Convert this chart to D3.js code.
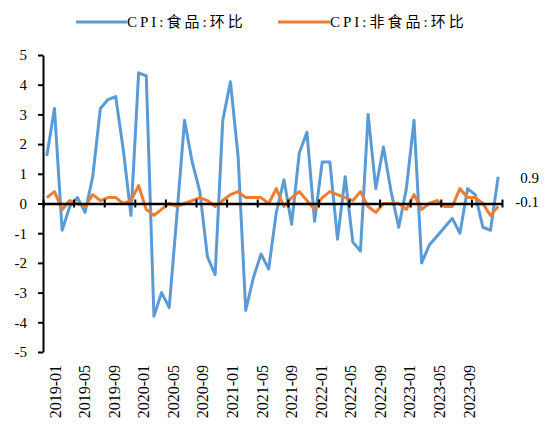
<!DOCTYPE html>
<html>
<head>
<meta charset="utf-8">
<script src="https://cdn.jsdelivr.net/npm/d3@7"></script>
<style>
  html, body { margin: 0; padding: 0; background: #fff; }
  svg { display: block; }
</style>
</head>
<body>
<svg id="chart" width="544" height="425"></svg>
<script>
const months = [];
for (let yr = 2019; yr <= 2023; yr++) {
  for (let m = 1; m <= 12; m++) months.push(yr + "-" + String(m).padStart(2, "0"));
}

const foodMoM = [
  1.6, 3.2, -0.9, -0.1, 0.2, -0.3, 0.9, 3.2, 3.5, 3.6, 1.8, -0.4,
  4.4, 4.3, -3.8, -3.0, -3.5, -0.4, 2.8, 1.4, 0.4, -1.8, -2.4, 2.8,
  4.1, 1.6, -3.6, -2.5, -1.7, -2.2, -0.3, 0.8, -0.7, 1.7, 2.4, -0.6,
  1.4, 1.4, -1.2, 0.9, -1.3, -1.6, 3.0, 0.5, 1.9, 0.4, -0.8, 0.5,
  2.8, -2.0, -1.4, -1.1, -0.8, -0.5, -1.0, 0.5, 0.3, -0.8, -0.9, 0.9
];

const nonFoodMoM = [
  0.2, 0.4, -0.2, 0.1, 0.0, -0.1, 0.3, 0.1, 0.2, 0.2, 0.0, 0.1,
  0.6, -0.2, -0.4, -0.2, 0.0, -0.1, 0.0, 0.1, 0.2, 0.1, -0.1, 0.1,
  0.3, 0.4, 0.2, 0.2, 0.2, 0.0, 0.5, -0.1, 0.2, 0.4, 0.1, -0.2,
  0.2, 0.4, 0.3, 0.2, 0.1, 0.4, -0.1, -0.3, 0.0, 0.0, 0.0, -0.2,
  0.3, -0.2, 0.0, 0.1, -0.1, -0.1, 0.5, 0.2, 0.2, 0.0, -0.4, -0.1
];

const seriesNames = ["CPI:食品:环比", "CPI:非食品:环比"];
const seriesColors = ["#5B9BD5", "#ED7D31"];
const yTicks = [5, 4, 3, 2, 1, 0, -1, -2, -3, -4, -5];
const tickLabels = months.filter((d, i) => i % 4 === 0);

const FONT = '"Liberation Serif", "Noto Sans CJK SC", serif';
const svg = d3.select("#chart").style("font-family", FONT);

// scales
const x = d3.scaleLinear().domain([0, months.length]).range([43, 502]);
const xLab = d3.scaleLinear().domain([0, 56]).range([55, 469]);
const y = d3.scaleLinear().domain([-5, 5]).range([352, 55]);

// y axis
const yAxisG = svg.append("g")
  .attr("transform", `translate(${x(0)},0)`)
  .call(d3.axisLeft(y).tickValues(yTicks).tickSize(5).tickSizeOuter(0).tickPadding(11)
    .tickFormat(d => d));
yAxisG.attr("font-family", null).attr("font-size", null);
yAxisG.select(".domain").attr("stroke", "#000").attr("stroke-width", 2);
yAxisG.selectAll(".tick line").attr("stroke", "#000").attr("stroke-width", 2);
yAxisG.selectAll(".tick text")
  .style("font-family", FONT).style("font-size", "15px").attr("fill", "#000");

// lines
const lineGen = d3.line()
  .x((d, i) => x(i + 0.5))
  .y(d => y(d));

[foodMoM, nonFoodMoM].forEach((vals, k) => {
  svg.append("path")
    .datum(vals)
    .attr("fill", "none")
    .attr("stroke", seriesColors[k])
    .attr("stroke-width", 3)
    .attr("stroke-linejoin", "round")
    .attr("d", lineGen);
});

// x axis at zero
const xAxisG = svg.append("g")
  .attr("transform", `translate(0,${y(0)})`)
  .call(d3.axisBottom(x).tickValues(d3.range(0, months.length + 1, 4)).tickSizeOuter(0).tickFormat(""));
xAxisG.select(".domain").attr("stroke", "#000").attr("stroke-width", 2.5);
xAxisG.selectAll(".tick line").attr("stroke", "#000").attr("stroke-width", 2)
  .attr("y1", -4).attr("y2", 4);

// x labels
svg.append("g").selectAll("text")
  .data(tickLabels)
  .join("text")
  .attr("transform", (d, i) => `translate(${xLab(i * 4)},365) rotate(-90)`)
  .attr("text-anchor", "end")
  .attr("dy", "0.35em")
  .style("font-family", FONT)
  .style("font-size", "16px")
  .attr("fill", "#000")
  .text(d => d);

// end labels
const lastFood = foodMoM[foodMoM.length - 1];
const lastNon = nonFoodMoM[nonFoodMoM.length - 1];
svg.append("text")
  .attr("x", 539).attr("y", y(lastFood) + 1)
  .attr("text-anchor", "end").attr("dy", "0.35em")
  .style("font-family", FONT)
  .style("font-size", "15px").attr("fill", "#000")
  .text(lastFood.toFixed(1));
svg.append("text")
  .attr("x", 539).attr("y", y(lastNon) - 5)
  .attr("text-anchor", "end").attr("dy", "0.35em")
  .style("font-family", FONT)
  .style("font-size", "15px").attr("fill", "#000")
  .text(lastNon.toFixed(1));

// legend
const legendItems = [
  { x0: 76, x1: 127, tx: 127 },
  { x0: 278, x1: 330, tx: 330 }
];
legendItems.forEach((it, k) => {
  svg.append("line")
    .attr("x1", it.x0).attr("x2", it.x1)
    .attr("y1", 22).attr("y2", 22)
    .attr("stroke", seriesColors[k]).attr("stroke-width", 3);
  svg.append("text")
    .attr("x", it.tx).attr("y", 22)
    .attr("dy", "0.35em")
    .style("font-family", FONT)
    .style("font-size", "15px")
    .style("letter-spacing", "3px")
    .attr("fill", "#000")
    .text(seriesNames[k]);
});
</script>
</body>
</html>
